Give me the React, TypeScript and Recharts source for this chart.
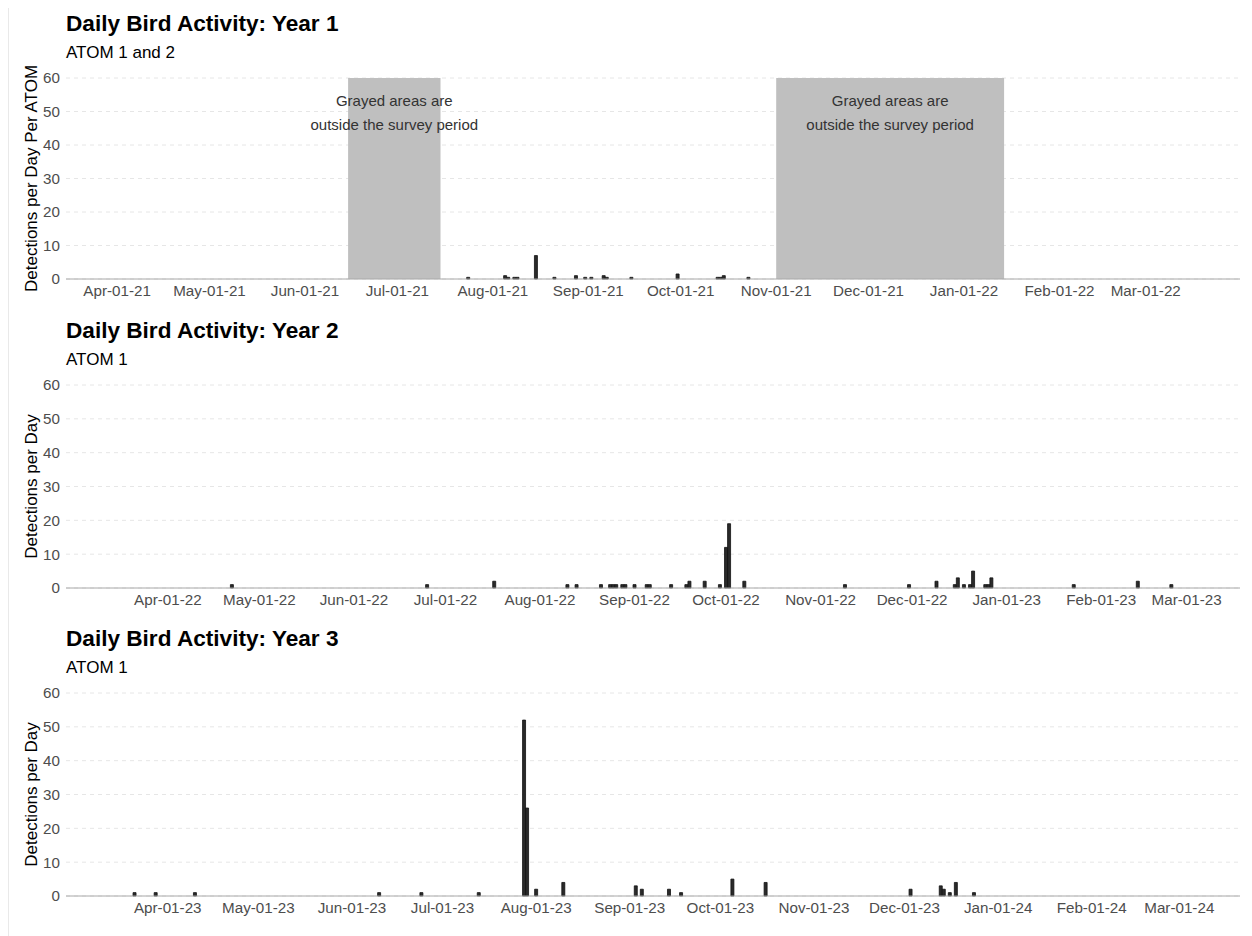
import React from 'react';
import { ComposedChart, Bar, XAxis, YAxis, CartesianGrid, ReferenceArea } from 'recharts';

// ---------- data ----------
const Y_TICKS = [0, 10, 20, 30, 40, 50, 60];

const YEAR1_TICKS = ['2021-04-01', '2021-05-01', '2021-06-01', '2021-07-01', '2021-08-01', '2021-09-01', '2021-10-01', '2021-11-01', '2021-12-01', '2022-01-01', '2022-02-01', '2022-03-01'];
const YEAR1_DATES = ['2021-07-24', '2021-08-05', '2021-08-06', '2021-08-08', '2021-08-09', '2021-08-15', '2021-08-21', '2021-08-28', '2021-08-31', '2021-09-02', '2021-09-06', '2021-09-07', '2021-09-15', '2021-09-30', '2021-10-13', '2021-10-14', '2021-10-15', '2021-10-23'];
const YEAR1_VALUES = [0.5, 1, 0.5, 0.5, 0.5, 7, 0.5, 1, 0.5, 0.5, 1, 0.5, 0.5, 1.5, 0.5, 0.5, 1, 0.5];
const YEAR1_GRAY = [['2021-06-15', '2021-07-15'], ['2021-11-01', '2022-01-14']];

const YEAR2_TICKS = ['2022-04-01', '2022-05-01', '2022-06-01', '2022-07-01', '2022-08-01', '2022-09-01', '2022-10-01', '2022-11-01', '2022-12-01', '2023-01-01', '2023-02-01', '2023-03-01'];
const YEAR2_DATES = ['2022-04-22', '2022-06-25', '2022-07-17', '2022-08-10', '2022-08-13', '2022-08-21', '2022-08-24', '2022-08-25', '2022-08-26', '2022-08-28', '2022-08-29', '2022-09-01', '2022-09-05', '2022-09-06', '2022-09-13', '2022-09-18', '2022-09-19', '2022-09-24', '2022-09-29', '2022-10-01', '2022-10-02', '2022-10-07', '2022-11-09', '2022-11-30', '2022-12-09', '2022-12-15', '2022-12-16', '2022-12-18', '2022-12-20', '2022-12-21', '2022-12-25', '2022-12-26', '2022-12-27', '2023-01-23', '2023-02-13', '2023-02-24'];
const YEAR2_VALUES = [1, 1, 2, 1, 1, 1, 1, 1, 1, 1, 1, 1, 1, 1, 1, 1, 2, 2, 1, 12, 19, 2, 1, 1, 2, 1, 3, 1, 1, 5, 1, 1, 3, 1, 2, 1];

const YEAR3_TICKS = ['2023-04-01', '2023-05-01', '2023-06-01', '2023-07-01', '2023-08-01', '2023-09-01', '2023-10-01', '2023-11-01', '2023-12-01', '2024-01-01', '2024-02-01', '2024-03-01'];
const YEAR3_DATES = ['2023-03-21', '2023-03-28', '2023-04-10', '2023-06-10', '2023-06-24', '2023-07-13', '2023-07-28', '2023-07-29', '2023-08-01', '2023-08-10', '2023-09-03', '2023-09-05', '2023-09-14', '2023-09-18', '2023-10-05', '2023-10-16', '2023-12-03', '2023-12-13', '2023-12-14', '2023-12-16', '2023-12-18', '2023-12-24'];
const YEAR3_VALUES = [1, 1, 1, 1, 1, 1, 52, 26, 2, 4, 3, 2, 2, 1, 5, 4, 2, 3, 2, 1, 4, 1];

const TITLES = ['Daily Bird Activity: Year 1', 'Daily Bird Activity: Year 2', 'Daily Bird Activity: Year 3'];
const SUBTITLES = ['ATOM 1 and 2', 'ATOM 1', 'ATOM 1'];
const Y_LABELS = ['Detections per Day Per ATOM', 'Detections per Day', 'Detections per Day'];
const GRAY_TEXT = ['Grayed areas are', 'outside the survey period'];

// ---------- helpers ----------
const MONTHS = ['Jan', 'Feb', 'Mar', 'Apr', 'May', 'Jun', 'Jul', 'Aug', 'Sep', 'Oct', 'Nov', 'Dec'];
const day = (s: string) => {
  const [y, m, d] = s.split('-').map(Number);
  return Date.UTC(y, m - 1, d) / 86400000;
};
const fmt = (v: number) => {
  const dt = new Date(Math.round(v) * 86400000);
  return `${MONTHS[dt.getUTCMonth()]}-${String(dt.getUTCDate()).padStart(2, '0')}-${String(dt.getUTCFullYear() % 100).padStart(2, '0')}`;
};

const FONT = "'Liberation Sans', Arial, Helvetica, sans-serif";
const W = 1252;
const H = 936;

class Boundary extends React.Component<any, any> {
  constructor(p: any) {
    super(p);
    this.state = { err: null };
  }
  static getDerivedStateFromError(err: any) {
    return { err };
  }
  render() {
    if (this.state.err) return <pre style={{ color: 'red' }}>{String(this.state.err && this.state.err.stack)}</pre>;
    return this.props.children;
  }
}

type PanelProps = {
  top: number;
  plotH: number;
  dates: string[];
  values: number[];
  ticks: string[];
  domain: [number, number];
  gray?: string[][];
  title: string;
  subtitle: string;
  ylabel: string;
};

const GrayLabel = (props: any) => {
  const vb = props.viewBox || {};
  const cx = vb.x + vb.width / 2;
  return (
    <text x={cx} y={vb.y + 28} textAnchor="middle" fill="#333333" fontSize={15} fontFamily={FONT}>
      <tspan x={cx} dy={0}>{GRAY_TEXT[0]}</tspan>
      <tspan x={cx} dy={24}>{GRAY_TEXT[1]}</tspan>
    </text>
  );
};

const Panel = ({ top, plotH, dates, values, ticks, domain, gray, title, subtitle, ylabel }: PanelProps) => {
  const data = dates.map((d, i) => ({ x: day(d), v: values[i] }));
  const chartTop = top + 68;
  const marginTop = 10;
  const xAxisH = 32;
  const h = marginTop + plotH + xAxisH;
  const plotCenter = chartTop + marginTop + plotH / 2;
  return (
    <div style={{ position: 'absolute', left: 0, top: top, width: W, height: 310 }}>
      <div style={{ position: 'absolute', left: 0, top: 68, width: W, height: h, fontFamily: FONT }}>
        <ComposedChart width={W} height={h} data={data} margin={{ top: marginTop, right: 12, bottom: 0, left: 0 }}>
          <CartesianGrid vertical={false} stroke="#e6e6e6" strokeDasharray="4 4" />
          {(gray || []).map((g, i) => (
            <ReferenceArea
              key={i}
              x1={day(g[0])}
              x2={day(g[1])}
              y1={0}
              y2={60}
              fill="#bfbfbf"
              fillOpacity={1}
              stroke="none"
              label={<GrayLabel />}
            />
          ))}
          <XAxis
            dataKey="x"
            type="number"
            domain={domain}
            allowDataOverflow
            ticks={ticks.map(day)}
            tickFormatter={fmt}
            interval={0}
            height={xAxisH}
            tickLine={false}
            tickSize={6}
            tickMargin={0}
            axisLine={{ stroke: '#a8a8a8', strokeWidth: 1 }}
            tick={{ fill: '#4d4d4d', fontSize: 15.2, fontFamily: FONT }}
          />
          <YAxis
            type="number"
            domain={[0, 60]}
            ticks={Y_TICKS}
            width={66}
            axisLine={false}
            tickLine={false}
            tickSize={6}
            tickMargin={0}
            tick={{ fill: '#4d4d4d', fontSize: 15.2, fontFamily: FONT }}
          />
          <Bar dataKey="v" barSize={3} fill="#2a2a2a" stroke="#111111" strokeWidth={0.8} isAnimationActive={false} />
        </ComposedChart>
      </div>
      <svg width={W} height={310} style={{ position: 'absolute', left: 0, top: 0, pointerEvents: 'none' }}>
        <text x={66} y={31} fontSize={22.6} fontWeight="bold" fill="#000" fontFamily={FONT}>{title}</text>
        <text x={66} y={58} fontSize={17} fill="#000" fontFamily={FONT}>{subtitle}</text>
        <text
          transform={`translate(37, ${plotCenter - top}) rotate(-90)`}
          textAnchor="middle"
          fontSize={17}
          fill="#000"
          fontFamily={FONT}
        >
          {ylabel}
        </text>
      </svg>
    </div>
  );
};

export default function App() {
  return (
    <Boundary>
      <div style={{ position: 'relative', width: W, height: H, marginTop: -8, marginLeft: -8, background: '#fff' }}>
        <Panel
          top={0}
          plotH={201}
          dates={YEAR1_DATES}
          values={YEAR1_VALUES}
          ticks={YEAR1_TICKS}
          domain={[day('2021-03-15') + 0.4, day('2022-03-31') + 0.6]}
          gray={YEAR1_GRAY}
          title={TITLES[0]}
          subtitle={SUBTITLES[0]}
          ylabel={Y_LABELS[0]}
        />
        <Panel
          top={307}
          plotH={203}
          dates={YEAR2_DATES}
          values={YEAR2_VALUES}
          ticks={YEAR2_TICKS}
          domain={[day('2022-02-26') + 0.6, day('2023-03-18') + 0.5]}
          title={TITLES[1]}
          subtitle={SUBTITLES[1]}
          ylabel={Y_LABELS[1]}
        />
        <Panel
          top={615}
          plotH={203}
          dates={YEAR3_DATES}
          values={YEAR3_VALUES}
          ticks={YEAR3_TICKS}
          domain={[day('2023-02-26') + 0.3, day('2024-03-21') + 0.1]}
          title={TITLES[2]}
          subtitle={SUBTITLES[2]}
          ylabel={Y_LABELS[2]}
        />
        <svg width={W} height={H} style={{ position: 'absolute', left: 0, top: 0, zIndex: 10, pointerEvents: 'none' }}>
          <path d={`M 7.5 ${H} L 7.5 1.5 L ${W} 1.5`} fill="none" stroke="#222" strokeWidth={1.2} />
        </svg>
      </div>
    </Boundary>
  );
}
